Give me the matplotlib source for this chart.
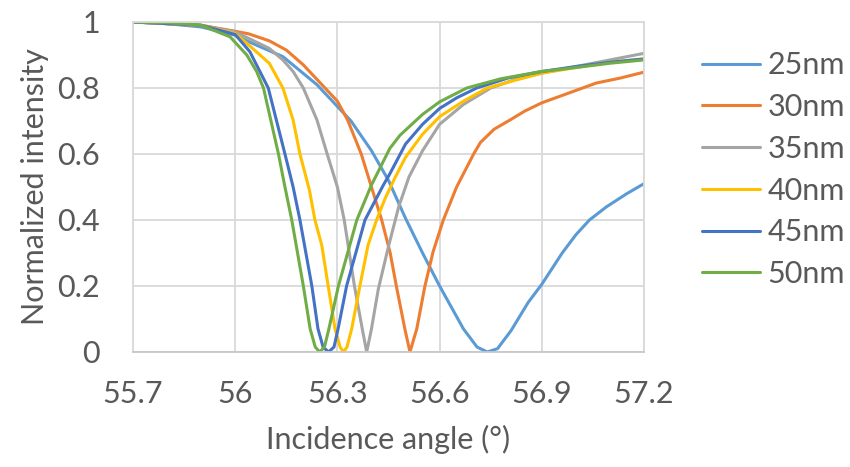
import matplotlib
matplotlib.use('Agg')
import matplotlib.pyplot as plt

# 25nm
angle_25 = [55.70, 55.80, 55.90, 56.00, 56.04, 56.14, 56.24, 56.34, 56.40, 56.45, 56.50, 56.55,
            56.60, 56.67, 56.71, 56.74, 56.77, 56.81, 56.86, 56.90, 56.96, 57.00, 57.04, 57.09,
            57.15, 57.20]
int_25 = [1.00, 0.995, 0.985, 0.960, 0.940, 0.895, 0.810, 0.700, 0.610, 0.520, 0.405, 0.300,
          0.200, 0.070, 0.015, 0.000, 0.010, 0.065, 0.150, 0.205, 0.300, 0.355, 0.400, 0.440,
          0.480, 0.510]

# 30nm
angle_30 = [55.70, 55.80, 55.90, 56.00, 56.04, 56.10, 56.15, 56.20, 56.25, 56.30, 56.33, 56.37,
            56.40, 56.43, 56.455, 56.473, 56.498, 56.513, 56.533, 56.557, 56.581, 56.611, 56.65,
            56.70, 56.72, 56.76, 56.81, 56.85, 56.90, 56.98, 57.06, 57.13, 57.20]
int_30 = [1.00, 0.995, 0.99, 0.972, 0.964, 0.943, 0.915, 0.870, 0.815, 0.760, 0.703, 0.600,
          0.500, 0.400, 0.300, 0.200, 0.070, 0.000, 0.070, 0.200, 0.304, 0.400, 0.500,
          0.600, 0.635, 0.675, 0.705, 0.730, 0.755, 0.785, 0.815, 0.830, 0.848]

# 35nm
angle_35 = [55.70, 55.80, 55.90, 56.00, 56.04, 56.10, 56.14, 56.17, 56.20, 56.24, 56.27, 56.30,
            56.32, 56.35, 56.373, 56.386, 56.40, 56.42, 56.45, 56.48, 56.51, 56.55, 56.60, 56.67,
            56.75, 56.82, 56.90, 57.00, 57.10, 57.20]
int_35 = [1.00, 0.995, 0.99, 0.970, 0.950, 0.920, 0.885, 0.850, 0.800, 0.703, 0.600, 0.500,
          0.400, 0.200, 0.070, 0.000, 0.070, 0.190, 0.320, 0.440, 0.530, 0.610, 0.690, 0.750,
          0.800, 0.825, 0.845, 0.865, 0.885, 0.905]

# 40nm
angle_40 = [55.70, 55.80, 55.90, 56.00, 56.04, 56.10, 56.14, 56.17, 56.19, 56.218, 56.234, 56.254,
            56.273, 56.293, 56.308, 56.318, 56.328, 56.342, 56.366, 56.39, 56.415, 56.44, 56.47,
            56.50, 56.55, 56.60, 56.67, 56.74, 56.82, 56.90, 57.00, 57.10, 57.20]
int_40 = [1.00, 0.995, 0.99, 0.965, 0.930, 0.875, 0.800, 0.703, 0.600, 0.490, 0.400, 0.324,
          0.200, 0.070, 0.015, 0.000, 0.015, 0.070, 0.200, 0.324, 0.400, 0.465, 0.530,
          0.590, 0.660, 0.713, 0.760, 0.800, 0.823, 0.845, 0.862, 0.878, 0.888]

# 45nm
angle_45 = [55.70, 55.80, 55.90, 56.00, 56.043, 56.097, 56.146, 56.17, 56.19, 56.225, 56.243, 56.258,
            56.274, 56.290, 56.302, 56.327, 56.354, 56.381, 56.435, 56.454, 56.50, 56.55, 56.60,
            56.65, 56.709, 56.80, 56.90, 57.00, 57.10, 57.20]
int_45 = [1.00, 0.995, 0.99, 0.962, 0.910, 0.800, 0.600, 0.500, 0.400, 0.200, 0.070, 0.015,
          0.000, 0.015, 0.070, 0.200, 0.300, 0.400, 0.506, 0.540, 0.630, 0.690, 0.738,
          0.770, 0.800, 0.830, 0.850, 0.865, 0.878, 0.888]

# 50nm
angle_50 = [55.70, 55.80, 55.90, 55.985, 56.034, 56.063, 56.083, 56.127, 56.146, 56.166, 56.20, 56.22,
            56.235, 56.248, 56.262, 56.275, 56.303, 56.33, 56.357, 56.40, 56.454, 56.484, 56.55,
            56.60, 56.68, 56.78, 56.90, 57.00, 57.10, 57.20]
int_50 = [1.00, 0.998, 0.99, 0.955, 0.900, 0.850, 0.800, 0.600, 0.500, 0.400, 0.200, 0.070,
          0.015, 0.000, 0.015, 0.070, 0.200, 0.300, 0.400, 0.506, 0.617, 0.657, 0.720,
          0.758, 0.800, 0.828, 0.850, 0.862, 0.875, 0.885]

labels = ['25nm', '30nm', '35nm', '40nm', '45nm', '50nm']
colors = ['#5B9BD5', '#ED7D31', '#A5A5A5', '#FFC000', '#4472C4', '#70AD47']
xs = [angle_25, angle_30, angle_35, angle_40, angle_45, angle_50]
ys = [int_25, int_30, int_35, int_40, int_45, int_50]

xticks = [55.7, 56, 56.3, 56.6, 56.9, 57.2]
xticklabels = ['55.7', '56', '56.3', '56.6', '56.9', '57.2']
yticks = [0, 0.2, 0.4, 0.6, 0.8, 1]
yticklabels = ['0', '0.2', '0.4', '0.6', '0.8', '1']

plt.rcParams['font.family'] = ['Lato', 'DejaVu Sans']
txt = '#595959'
fs = 22

fig = plt.figure(figsize=(8.5, 4.67), dpi=100)
ax = fig.add_axes([0.1565, 0.2463, 0.6011, 0.7066])

for x, y, lab, c in zip(xs, ys, labels, colors):
    ax.plot(x, y, color=c, lw=2.2, label=lab, solid_capstyle='round', solid_joinstyle='round')

ax.set_xlim(55.7, 57.2)
ax.set_ylim(0, 1)
ax.set_xticks(xticks)
ax.set_xticklabels(xticklabels)
ax.set_yticks(yticks)
ax.set_yticklabels(yticklabels)
ax.tick_params(length=0, labelsize=fs, labelcolor=txt)
ax.tick_params(axis='x', pad=20)
ax.tick_params(axis='y', pad=24)
ax.grid(True, color='#D9D9D9', lw=1.3)
ax.set_axisbelow(True)
for s in ax.spines.values():
    s.set_color('#D9D9D9')
    s.set_linewidth(1.3)
ax.spines['bottom'].set_color('#C8C8C8')

ax.set_xlabel('Incidence angle (°)', fontsize=fs, color=txt)
ax.set_ylabel('Normalized intensity', fontsize=fs, color=txt)
ax.xaxis.set_label_coords(0.5, -0.22)
ax.yaxis.set_label_coords(-0.165, 0.5)

fig.legend(loc='upper left', bbox_to_anchor=(0.826, 0.89), frameon=False,
           fontsize=fs, labelcolor=txt, handlelength=1.9, handletextpad=0.23,
           labelspacing=0.45, borderpad=0, borderaxespad=0)

fig.savefig('out.png', dpi=100)
